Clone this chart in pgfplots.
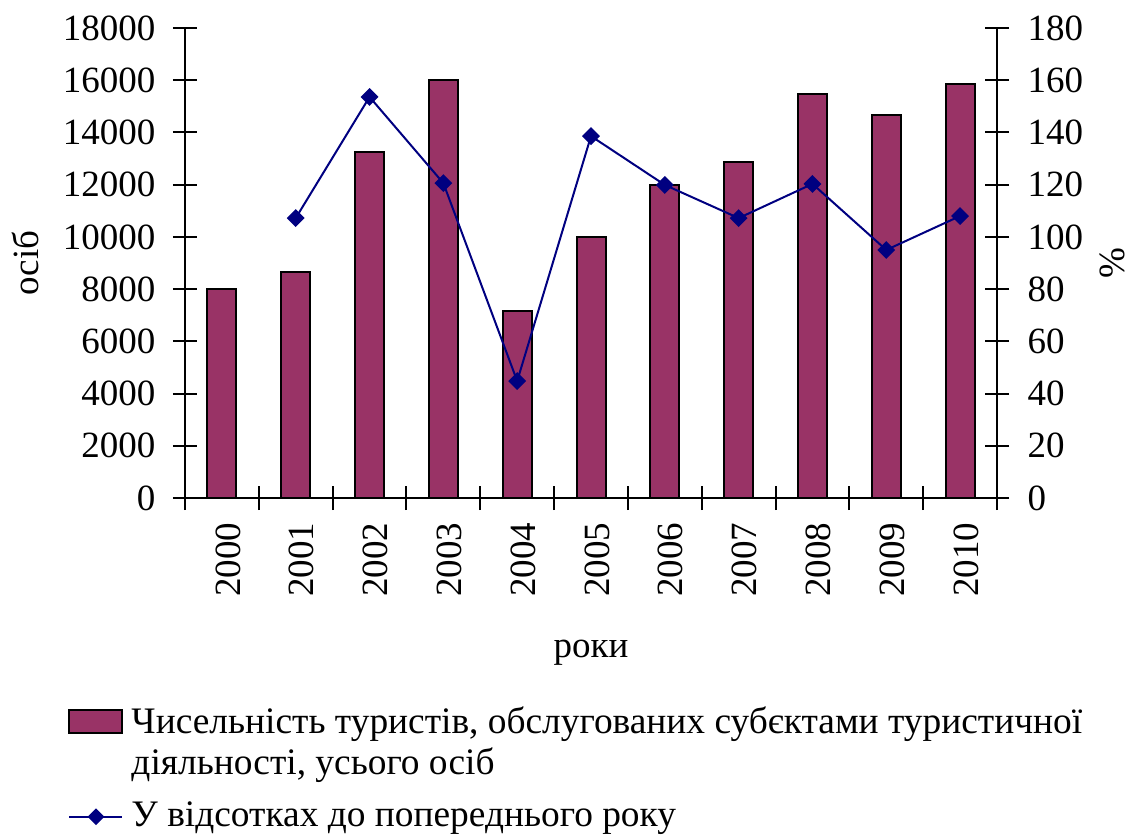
\documentclass[border=0pt]{standalone}
\usepackage{fontspec}
\setmainfont{Liberation Serif}
\usepackage{pgfplots}
\pgfplotsset{compat=1.18}
\definecolor{barfill}{HTML}{993366}
\definecolor{navyline}{HTML}{000080}
\begin{document}
\fontsize{18.5}{20.5}\selectfont
\begin{tikzpicture}
\useasboundingbox (-92.5pt,-169.5pt) rectangle (474.5pt,249pt);
\begin{axis}[
  at={(0,0)}, anchor=south west,
  scale only axis, width=406pt, height=235pt,
  xmin=-0.5, xmax=10.5, ymin=0, ymax=18000,
  axis x line*=bottom, axis y line*=left,
  tick align=center,
  xtick={0,...,10},
  xticklabels={2000,2001,2002,2003,2004,2005,2006,2007,2008,2009,2010},
  minor xtick={-0.5,0.5,...,10.5},
  major x tick style={draw=none},
  minor tick length=12pt, major tick length=12pt,
  ytick={0,2000,...,18000},
  scaled ticks=false,
  /pgf/number format/.cd, 1000 sep={}, assume math mode=true, /pgfplots/.cd,
  xticklabel style={rotate=90, anchor=east, yshift=-3pt},
  yticklabel style={anchor=east, xshift=-2.5pt},
  axis line style={line width=1pt},
  every tick/.style={line width=1pt, black},
  xlabel={роки},
  xlabel style={at={(axis description cs:0.5,-0.33)}, anchor=center},
  ylabel={осіб},
  ylabel style={at={(axis description cs:-0.196,0.5)}, anchor=center},
]
\addplot[ybar, bar width=14.5pt, fill=barfill, draw=black, line width=1pt]
  coordinates {(0,8000) (1,8650) (2,13250) (3,16000) (4,7170) (5,10000)
               (6,11990) (7,12870) (8,15470) (9,14670) (10,15860)};
\end{axis}
\begin{axis}[
  at={(0,0)}, anchor=south west,
  scale only axis, width=406pt, height=235pt,
  xmin=-0.5, xmax=10.5, ymin=0, ymax=180,
  axis x line=none, axis y line*=right,
  tick align=center, major tick length=12pt,
  ytick={0,20,...,180},
  /pgf/number format/.cd, 1000 sep={}, assume math mode=true, /pgfplots/.cd,
  yticklabel style={anchor=west, xshift=3pt},
  axis line style={line width=1pt},
  every tick/.style={line width=1pt, black},
  ylabel={\%},
  ylabel style={at={(axis description cs:1.142,0.5)}, anchor=center},
  legend style={at={(axis description cs:-0.144,-0.439)}, anchor=north west,
    draw=none, fill=none, inner sep=0pt, row sep=29.5pt, column sep=4pt,
    font=\fontsize{18.7}{20.5}\selectfont,
    nodes={inner sep=0pt}},
  legend cell align=left,
  legend style={cells={anchor=base west}},
]
\addlegendimage{legend image code/.code={\draw[fill=barfill, draw=black, line width=1pt] (0pt,0pt) rectangle (26.5pt,11.5pt);}}
\addlegendentry{\begin{tabular}[t]{@{}l@{}}Чисельність туристів, обслугованих субєктами туристичної\\діяльності, усього осіб\end{tabular}}
\addplot[navyline, line width=1pt, mark=square*, mark size=2.65pt,
  mark options={rotate=45, fill=navyline, draw=navyline},
  legend image code/.code={\draw[navyline, line width=1pt] (0pt,5pt) -- (26.5pt,5pt);
     \fill[navyline] (13.25pt,1.5pt) -- (16.75pt,5pt) -- (13.25pt,8.5pt) -- (9.75pt,5pt) -- cycle;}]
  coordinates {(1,107.2) (2,153.6) (3,120.6) (4,44.8) (5,138.6) (6,119.9)
               (7,107.2) (8,120.3) (9,95.0) (10,108.0)};
\addlegendentry{\begin{tabular}[t]{@{}l@{}}У відсотках до попереднього року\end{tabular}}
\end{axis}
\end{tikzpicture}
\end{document}
